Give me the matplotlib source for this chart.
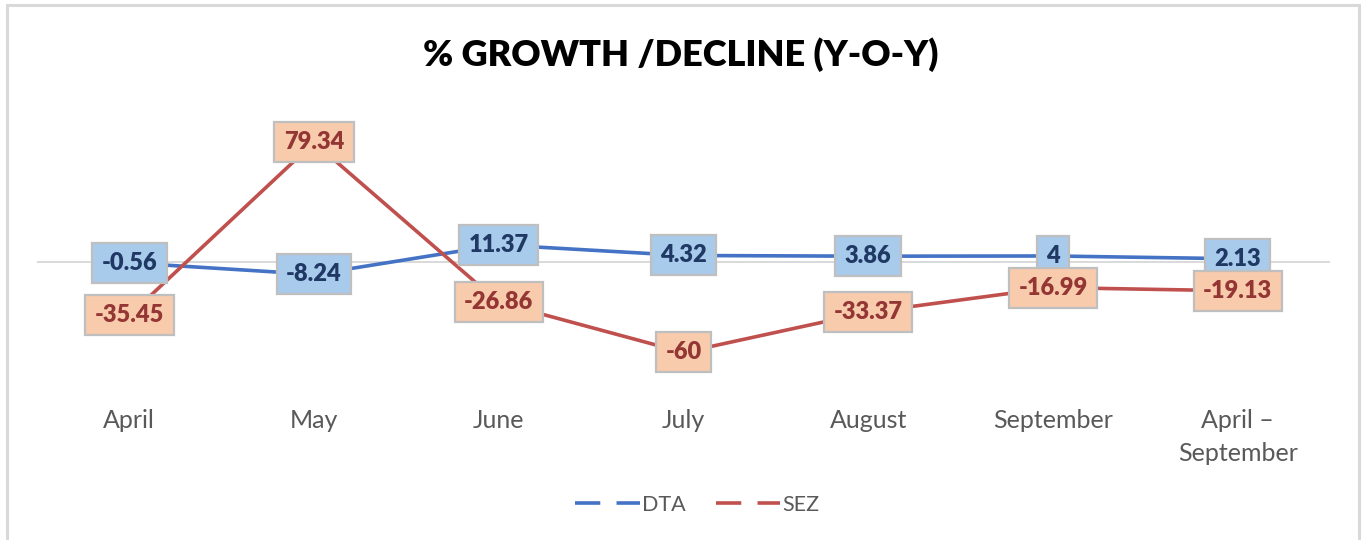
import matplotlib
matplotlib.use("Agg")
import matplotlib.pyplot as plt
from matplotlib.lines import Line2D
from matplotlib.patches import Rectangle
from matplotlib.path import Path

categories = ["April", "May", "June", "July", "August", "September", "April –\nSeptember"]
dta = [-0.56, -8.24, 11.37, 4.32, 3.86, 4, 2.13]
sez = [-35.45, 79.34, -26.86, -60, -33.37, -16.99, -19.13]
dta_labels = ["-0.56", "-8.24", "11.37", "4.32", "3.86", "4", "2.13"]
sez_labels = ["-35.45", "79.34", "-26.86", "-60", "-33.37", "-16.99", "-19.13"]

BLUE = "#4472C4"
RED = "#C0504D"
FONT = "Lato"

W, H = 1362, 540
fig = plt.figure(figsize=(W / 100, H / 100), dpi=100)
fig.patch.set_facecolor("white")

# chart-area border
fig.add_artist(Rectangle((6.5 / W, -0.05), (1358.5 - 6.5) / W, 1.05 - 4.5 / H,
                         transform=fig.transFigure, fill=False,
                         edgecolor="#D9D9D9", linewidth=2.2))

ymin, ymax = -80, 100
zero_px, scale = 262, 1.507
bot_px = zero_px - ymin * scale
top_px = zero_px - ymax * scale
ax = fig.add_axes([37 / W, 1 - bot_px / H, (1330 - 37) / W, (bot_px - top_px) / H])
ax.set_xlim(-0.5, len(categories) - 0.5)
ax.set_ylim(ymin, ymax)
for s in ax.spines.values():
    s.set_visible(False)
ax.set_yticks([])
ax.axhline(0, color="#D9D9D9", linewidth=1.4, zorder=1)

x = list(range(len(categories)))
ax.plot(x, dta, color=BLUE, linewidth=2.6, zorder=3, solid_capstyle="round")
ax.plot(x, sez, color=RED, linewidth=2.6, zorder=3, solid_capstyle="round")


def label_box(x0, y0, width, height, mutation_size):
    padx = 9.5
    bh = 40.0
    cy = y0 + height / 2
    l, r = x0 - padx, x0 + width + padx
    b, t = cy - bh / 2, cy + bh / 2
    return Path([(l, b), (r, b), (r, t), (l, t), (l, b)],
                [Path.MOVETO, Path.LINETO, Path.LINETO, Path.LINETO, Path.CLOSEPOLY])


for xi, v, t in zip(x, dta, dta_labels):
    ax.text(xi, v, t, ha="center", va="center", fontsize=17, fontweight="heavy",
            family=FONT, color="#1F3864", zorder=5,
            bbox=dict(boxstyle=label_box, facecolor="#A9CBEB",
                      edgecolor="#BFBFBF", linewidth=1.6))
for xi, v, t in zip(x, sez, sez_labels):
    ax.text(xi, v, t, ha="center", va="center", fontsize=17, fontweight="heavy",
            family=FONT, color="#943634", zorder=6,
            bbox=dict(boxstyle=label_box, facecolor="#F8CBAD",
                      edgecolor="#BFBFBF", linewidth=1.6))

ax.set_xticks(x)
ax.set_xticklabels(categories, fontsize=18, family=FONT, color="#595959",
                   linespacing=1.55)
ax.tick_params(axis="x", length=0, pad=19)

fig.text(0.5, 1 - 55 / H, "% GROWTH /DECLINE (Y-O-Y)", ha="center", va="center",
         fontsize=26, fontweight="heavy", family=FONT, color="black")

handles = [Line2D([0], [0], color=BLUE, linewidth=2.6, dashes=(7, 4.5)),
           Line2D([0], [0], color=RED, linewidth=2.6, dashes=(7, 4.5))]
fig.legend(handles, ["DTA", "SEZ"], loc="center", bbox_to_anchor=(0.512, 1 - 505 / H),
           ncol=2, frameon=False, handlelength=3.0, handletextpad=0.1,
           columnspacing=1.4, prop={"family": FONT, "size": 15.5}, labelcolor="#595959")

fig.savefig("out.png", dpi=100, facecolor="white")
